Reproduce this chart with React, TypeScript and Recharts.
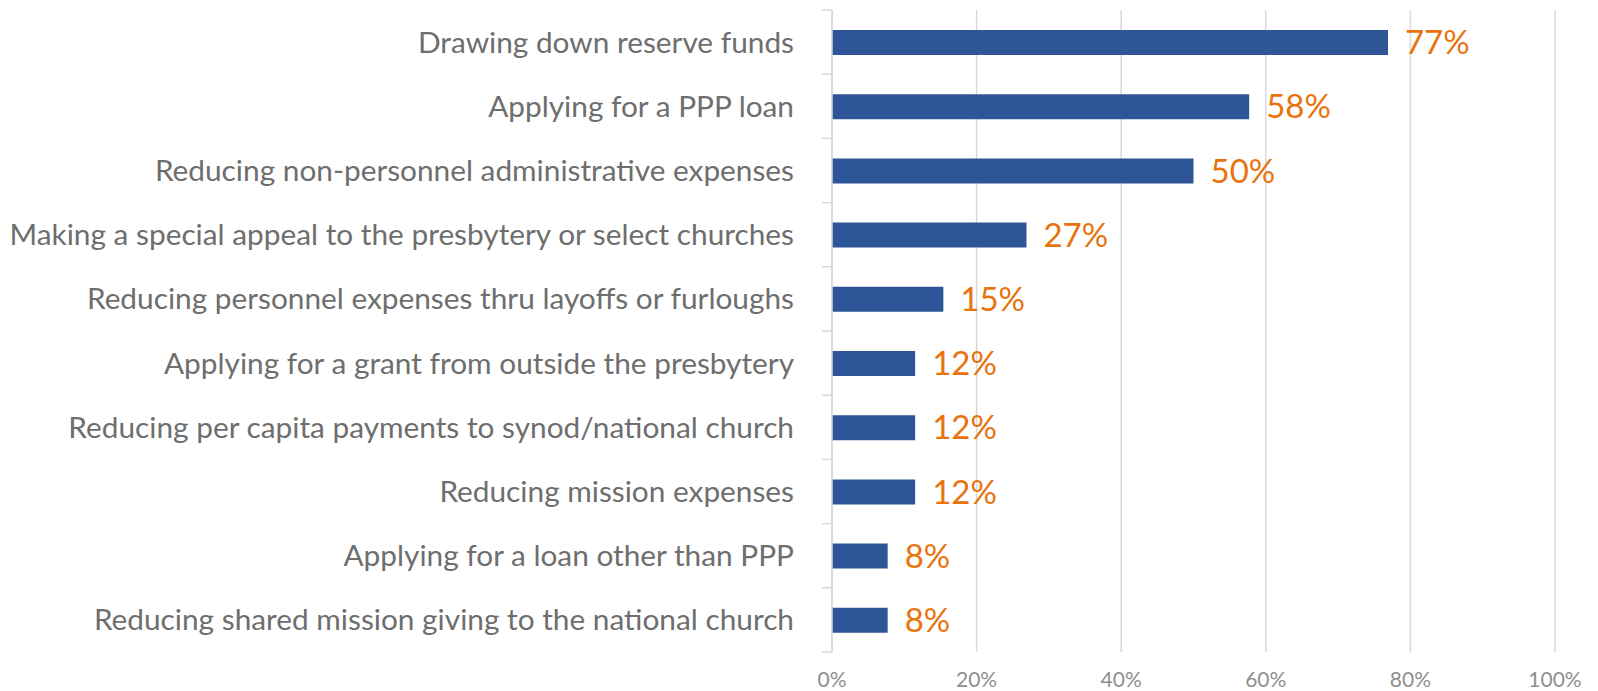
import React from "react";
import {
  BarChart,
  Bar,
  CartesianGrid,
  XAxis,
  YAxis,
  LabelList,
} from "recharts";

const categories = [
  "Drawing down reserve funds",
  "Applying for a PPP loan",
  "Reducing non-personnel administrative expenses",
  "Making a special appeal to the presbytery or select churches",
  "Reducing personnel expenses thru layoffs or furloughs",
  "Applying for a grant from outside the presbytery",
  "Reducing per capita payments to synod/national church",
  "Reducing mission expenses",
  "Applying for a loan other than PPP",
  "Reducing shared mission giving to the national church",
];

const shares = [76.9, 57.7, 50.0, 26.9, 15.4, 11.5, 11.5, 11.5, 7.7, 7.7];

const xTicks = [0, 20, 40, 60, 80, 100];

const data = categories.map((name, i) => ({ name, value: shares[i] }));

const W = 1598;
const H = 691;
const TOP = 10;
const XAXIS_H = 39;
const BAND = (H - TOP - XAXIS_H) / categories.length;

const FONT = "Lato, 'Open Sans', sans-serif";

function CategoryTick(props: any) {
  const { x, y, payload, index } = props;
  const lineX1 = x + 28;
  const lineX2 = x + 38;
  return (
    <g>
      <line x1={lineX1} x2={lineX2} y1={y - BAND / 2} y2={y - BAND / 2} stroke="#d9d9d9" strokeWidth={1.5} />
      {index === categories.length - 1 && (
        <line x1={lineX1} x2={lineX2} y1={y + BAND / 2} y2={y + BAND / 2} stroke="#d9d9d9" strokeWidth={1.5} />
      )}
      <text x={x} y={y} dy="0.35em" textAnchor="end" fill="#6e6e6e" fontSize={29.8} fontFamily={FONT}>
        {payload.value}
      </text>
    </g>
  );
}

export default function App() {
  return (
    <div style={{ position: "absolute", left: 0, top: 0, background: "#fff" }}>
      <BarChart
        width={W}
        height={H}
        data={data}
        layout="vertical"
        margin={{ top: TOP, right: 43, left: 0, bottom: 0 }}
        barSize={25}
      >
        <CartesianGrid horizontal={false} stroke="#d9d9d9" strokeWidth={1.5} />
        <XAxis
          type="number"
          domain={[0, 100]}
          ticks={xTicks}
          tickFormatter={(v) => `${v}%`}
          axisLine={false}
          tickLine={false}
          height={XAXIS_H}
          tick={{ fill: "#8f8f8f", fontSize: 21, fontFamily: FONT }}
          tickMargin={14}
        />
        <YAxis
          type="category"
          dataKey="name"
          width={832}
          axisLine={{ stroke: "#d9d9d9", strokeWidth: 1.5 }}
          tickLine={false}
          tickSize={10}
          tickMargin={28}
          interval={0}
          tick={<CategoryTick />}
        />
        <Bar dataKey="value" fill="#2e5597" isAnimationActive={false}>
          <LabelList
            dataKey="value"
            position="right"
            offset={17}
            formatter={(v: any) => `${Math.round(v)}%`}
            fill="#e8730c"
            fontSize={33}
            fontFamily={FONT}
          />
        </Bar>
      </BarChart>
    </div>
  );
}
